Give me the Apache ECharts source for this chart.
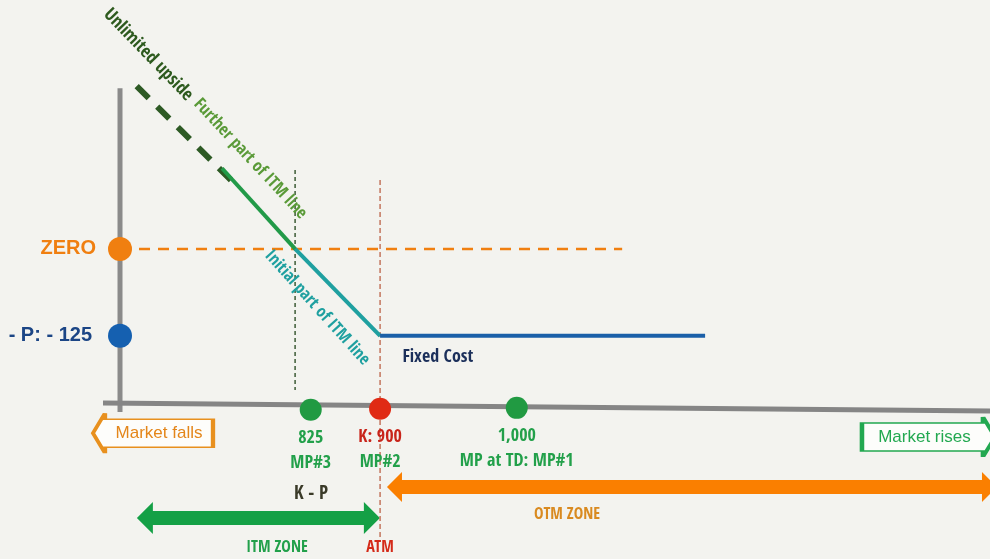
<!DOCTYPE html>
<html lang="en">
<head>
    <meta charset="UTF-8">
    <script src="https://cdn.jsdelivr.net/npm/echarts@6/dist/echarts.min.js"></script>
    <title>Long put payoff</title>
</head>
<body style="margin:0; background:#f3f3ef;">
<div id="container" style="width:990px; height:559px;"></div>
<script>
    // diagram values: x = market price, y = payoff
    const strike = 900;
    const premium = 125;
    const breakEven = strike - premium;   // K - P
    const payoffAxisX = 517.5;            // where the payoff axis is drawn on the price scale
    const yMarks = [0, -premium];
    const yMarkLabels = ['ZERO', '- P: - 125'];
    const priceMarks = [798, 900, 1101];  // drawn positions (picture is not to scale)
    const priceMarkLabels = [['825', 'MP#3'], ['K: 900', 'MP#2'], ['1,000', 'MP at TD: MP#1']];
    const fixedCostEnd = 1378;
    const itmLineStart = [667.5, 116];
    const upsideDash = [[542, 234], [690, 90]];

    const NARROW = '"Open Sans Condensed", "Roboto Condensed", sans-serif';
    const SANS = '"Liberation Sans", Arial, sans-serif';
    const GREEN = '#22a04a', ORANGE = '#f07f10', RED = '#d42a18', NAVY = '#1b4585', TEAL = '#1fa0a0';

    let myChart = echarts.init(document.getElementById('container'));

    function seg(name, pts, color, width, type) {
        return {
            name: name, type: 'line', data: pts, showSymbol: false, silent: true,
            lineStyle: {color: color, width: width, type: type || 'solid', cap: 'butt'}, z: 3
        };
    }
    function txt(x, y, text, color, size, extra) {
        return {
            value: [x, y],
            label: Object.assign({
                show: true, position: 'inside', formatter: text, color: color,
                fontSize: size, fontFamily: NARROW, fontWeight: 'bold'
            }, extra || {})
        };
    }

    let option = {
        backgroundColor: '#f3f3ef',
        animation: false,
        grid: {left: 0, right: 0, top: 0, bottom: 0},
        xAxis: {type: 'value', min: 341, max: 1797, show: false},
        yAxis: {type: 'value', min: -446, max: 358, show: false},
        series: [
            seg('payoffAxis', [[payoffAxisX, 231], [payoffAxisX, -234.6]], '#8a8a8a', 5),
            seg('priceAxis', [[492.5, -221.6], [1797, -233.1]], '#858585', 5),
            seg('zero', [[payoffAxisX, 0], [1256, 0]], ORANGE, 2.5, [11, 8]),
            seg('kMinusP', [[breakEven, 113.5], [breakEven, -203]], '#3d5c36', 1.5, [4, 3]),
            seg('atm', [[strike, 99], [strike, -418.7]], '#c4765e', 1.5, [5, 3]),
            seg('upside', upsideDash, '#2d5a24', 6, [17, 12]),
            seg('furtherItm', [itmLineStart, [breakEven, 0]], '#229a48', 4),
            seg('initialItm', [[breakEven, 0], [strike, -premium]], TEAL, 4),
            seg('fixedCost', [[strike, -premium], [fixedCostEnd, -premium]], '#1a5fa8', 4),
            {
                name: 'boxes', type: 'scatter', silent: true, z: 2,
                itemStyle: {opacity: 1},
                data: [
                    {
                        value: [566, -265],
                        symbol: 'path://M0,20 L12,0 L12,6 L120,6 L120,34 L12,34 L12,40 Z',
                        symbolSize: [120, 40],
                        itemStyle: {color: '#fdfdfb', borderColor: '#e8901e', borderWidth: 2.5},
                        label: {show: true, position: 'inside', offset: [6, 0], formatter: 'Market falls',
                            color: '#e4861a', fontSize: 17, fontFamily: SANS}
                    },
                    {
                        value: [1706.5, -270.5],
                        symbol: 'path://M0,6 L121,6 L121,0 L133,20 L121,40 L121,34 L0,34 Z',
                        symbolSize: [133, 40],
                        itemStyle: {color: '#fdfdfb', borderColor: '#22a850', borderWidth: 2.5},
                        label: {show: true, position: 'inside', offset: [-4, 0], formatter: 'Market rises',
                            color: '#22a850', fontSize: 17, fontFamily: SANS}
                    },
                    {
                        value: [721, -387],
                        symbol: 'path://M0,16 L16,0 L16,9 L227,9 L227,0 L243,16 L227,32 L227,23 L16,23 L16,32 Z',
                        symbolSize: [243, 32],
                        itemStyle: {color: '#14a046'}
                    },
                    {
                        value: [1358.7, -342.5],
                        symbol: 'path://M0,15 L15,0 L15,8 L595,8 L595,0 L610,15 L595,30 L595,22 L15,22 L15,30 Z',
                        symbolSize: [610, 30],
                        itemStyle: {color: '#fa7f00'}
                    }
                ]
            },
            {
                name: 'yMarks', type: 'scatter', symbolSize: 24, silent: true, z: 5,
                itemStyle: {opacity: 1},
                data: yMarks.map(function (v, i) {
                    return {
                        value: [payoffAxisX, v],
                        itemStyle: {color: i === 0 ? ORANGE : '#1560b0'},
                        label: {
                            show: true, position: 'left', distance: i === 0 ? 12 : 16,
                            formatter: yMarkLabels[i], color: i === 0 ? ORANGE : NAVY,
                            fontSize: 20, fontWeight: 'bold', fontFamily: SANS
                        }
                    };
                })
            },
            {
                name: 'priceMarks', type: 'scatter', symbolSize: 22, silent: true, z: 5,
                itemStyle: {opacity: 1},
                data: priceMarks.map(function (v, i) {
                    let top = priceMarkLabels[i][0], bottom = priceMarkLabels[i][1];
                    return {
                        value: [v, -230 + (i - 1) * 1.4],
                        itemStyle: {color: i === 1 ? '#e02a14' : '#219a42'},
                        label: {
                            show: true, position: 'bottom', distance: 5,
                            formatter: '{a|' + top + '}\n{b|' + bottom + '}',
                            rich: {
                                a: {color: i === 1 ? '#c8241a' : GREEN, fontSize: 18, fontWeight: 'bold',
                                    fontFamily: NARROW, lineHeight: 25, align: 'center'},
                                b: {color: GREEN, fontSize: 18, fontWeight: 'bold',
                                    fontFamily: NARROW, lineHeight: 25, align: 'center'}
                            }
                        }
                    };
                })
            },
            {
                name: 'notes', type: 'scatter', symbolSize: 0, silent: true, z: 6,
                itemStyle: {opacity: 1},
                data: [
                    txt(558.7, 279, 'Unlimited upside', '#2d5a1e', 18, {rotate: -46}),
                    txt(708.7, 129.3, 'Further part of ITM line', '#5a9a38', 17, {rotate: -47}),
                    txt(807.2, -85, 'Initial part of ITM line', TEAL, 17, {rotate: -48}),
                    txt(985, -155.5, 'Fixed Cost', '#1b2f5a', 18),
                    txt(798.4, -353, 'K - P', '#3a3a28', 19),
                    txt(748.4, -430, 'ITM ZONE', GREEN, 16),
                    txt(strike, -430, 'ATM', RED, 16),
                    txt(1175, -382.7, 'OTM ZONE', '#d98a20', 16)
                ]
            }
        ]
    };

    myChart.setOption(option);
</script>
</body>
</html>
